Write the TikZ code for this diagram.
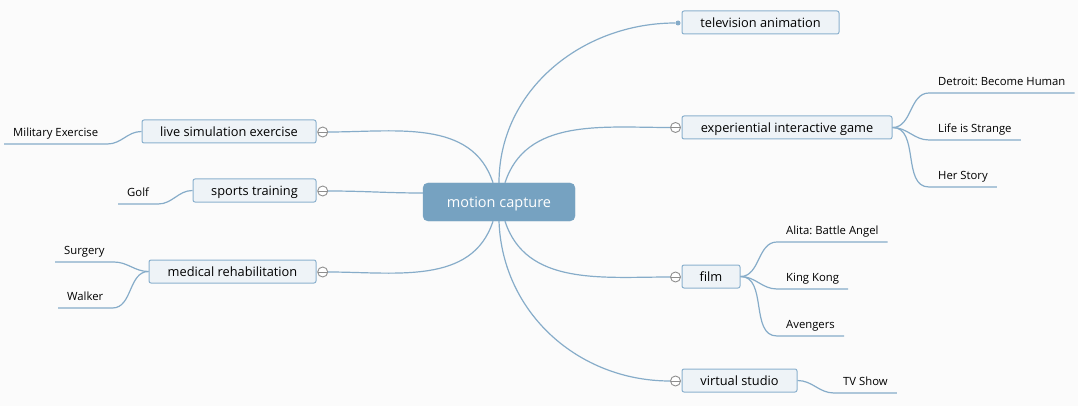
\documentclass[tikz,border=0pt]{standalone}
\usepackage{fontspec}
\setmainfont{Open Sans}
\frenchspacing
\definecolor{linkblue}{HTML}{86ACC9}
\definecolor{boxedge}{HTML}{8BB1CE}
\definecolor{boxfill}{HTML}{EEF3F7}
\definecolor{hubblue}{HTML}{76A2C1}
\definecolor{knobgray}{HTML}{8E8E8E}
\definecolor{paper}{HTML}{FBFBFB}
\begin{document}
\begin{tikzpicture}[x=1pt, y=-1pt,
  link/.style={draw=linkblue, line width=1.2pt},
  hub/.style={fill=hubblue, draw=hubblue, rounded corners=5pt, minimum width=152, minimum height=38,
    text=white, text height=14.5pt, text depth=3pt, font=\fontsize{14.5}{16}\selectfont},
  topic/.style={draw=boxedge, fill=boxfill, rounded corners=2pt, line width=1pt, minimum height=23,
    inner sep=0pt, text height=13pt, text depth=3pt, font=\fontsize{12.8}{14}\selectfont},
  knob/.style={circle, draw=knobgray, fill=white, line width=0.9pt, minimum size=10, inner sep=0pt,
    path picture={\draw[knobgray, line width=0.9pt] (path picture bounding box.west) -- (path picture bounding box.east);}},
  leaf/.style={anchor=south west, inner xsep=9pt, inner ysep=4pt, text height=8pt, text depth=3pt,
    font=\fontsize{11.3}{13}\selectfont}]
  \fill[paper] (0,0) rectangle (1078,406);

  \node[hub] (hub) at (499,202) {motion capture};

  \node[topic, minimum width=157] (tv) at (760.5,22.5) {television animation};
  \node[topic, minimum width=210] (game) at (787,127.5) {experiential interactive game};
  \node[topic, minimum width=58] (film) at (711,276.5) {film};
  \node[topic, minimum width=115] (studio) at (739.5,380.5) {virtual studio};
  \node[topic, minimum width=174] (live) at (229,131.5) {live simulation exercise};
  \node[topic, minimum width=123] (sports) at (254.5,190.5) {sports training};
  \node[topic, minimum width=167] (medical) at (232.5,271.5) {medical rehabilitation};

  \node[circle, fill=linkblue, minimum size=5, inner sep=0pt] (tvdot) at (678,23) {};
  \node[knob] (kgame) at (675.5,127.5) {};
  \node[knob] (kfilm) at (675.5,277) {};
  \node[knob] (kstudio) at (675.5,381) {};
  \node[knob] (klive) at (322.7,132) {};
  \node[knob] (ksports) at (322.7,191) {};
  \node[knob] (kmedical) at (322.7,272) {};

  \draw[link] (hub.north) to[out=90, in=180] (tvdot);
  \draw[link] ([xshift=6pt]hub.north) to[out=72, in=180] (kgame.west);
  \draw[link] ([xshift=-6pt]hub.north) to[out=108, in=0] (klive.east);
  \draw[link] ([yshift=9pt]hub.west) to[out=180, in=0] (ksports.east);
  \draw[link] ([xshift=-6pt]hub.south) to[out=252, in=0] (kmedical.east);
  \draw[link] ([xshift=6pt]hub.south) to[out=-72, in=180] (kfilm.west);
  \draw[link] (hub.south) to[out=-88, in=180] (kstudio.west);

  \node[leaf] (detroit) at (929,93) {Detroit: Become Human};
  \node[leaf] (strange) at (929,140) {Life is Strange};
  \node[leaf] (herstory) at (929,187) {Her Story};
  \node[leaf] (alita) at (777,242) {Alita: Battle Angel};
  \node[leaf] (kingkong) at (777,289) {King Kong};
  \node[leaf] (avengers) at (777,336) {Avengers};
  \node[leaf] (tvshow) at (834,393) {TV Show};
  \node[leaf] (military) at (4,144) {Military Exercise};
  \node[leaf] (golf) at (118,204) {Golf};
  \node[leaf] (surgery) at (55,262) {Surgery};
  \node[leaf] (walker) at (58,308) {Walker};

  \foreach \l in {detroit, strange, herstory}
    \draw[link] (game.east) to[out=0, in=180] (\l.south west) -- (\l.south east);
  \foreach \l in {alita, kingkong, avengers}
    \draw[link] (film.east) to[out=0, in=180] (\l.south west) -- (\l.south east);
  \draw[link] (studio.east) to[out=0, in=180] (tvshow.south west) -- (tvshow.south east);
  \draw[link] (live.west) to[out=180, in=0] (military.south east) -- (military.south west);
  \draw[link] (sports.west) to[out=180, in=0] (golf.south east) -- (golf.south west);
  \foreach \l in {surgery, walker}
    \draw[link] (medical.west) to[out=180, in=0] (\l.south east) -- (\l.south west);
\end{tikzpicture}
\end{document}
